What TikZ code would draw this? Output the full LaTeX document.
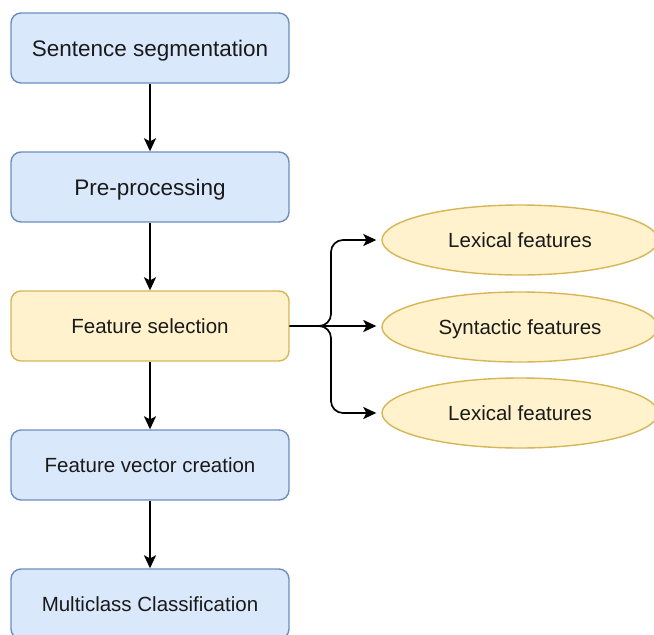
\documentclass[tikz,border=0pt]{standalone}
\usepackage{fontspec}
\setmainfont{Liberation Sans}
\usetikzlibrary{shapes.geometric,arrows.meta,calc}

\definecolor{blueFill}{HTML}{DAE8FC}
\definecolor{blueLine}{HTML}{6C8EBF}
\definecolor{yellowFill}{HTML}{FFF2CC}
\definecolor{yellowLine}{HTML}{D6B656}
\definecolor{ink}{HTML}{1A1A1A}

\tikzset{
  stage/.style={draw=blueLine, fill=blueFill, line width=1.4pt, rounded corners=10pt,
    minimum width=278pt, minimum height=70pt, inner sep=0pt, text=ink},
  hilite/.style={stage, draw=yellowLine, fill=yellowFill},
  feat/.style={ellipse, draw=yellowLine, fill=yellowFill, line width=1.4pt,
    minimum width=276pt, minimum height=70pt, inner sep=0pt, text=ink},
  % fixed text box so labels with and without descenders sit alike
  big/.style={font=\fontsize{22.5}{26}\selectfont, text height=17.5pt, text depth=1pt},
  small/.style={font=\fontsize{20.5}{24}\selectfont, text height=16pt, text depth=1pt},
  flow/.style={draw=black, line width=1.7pt, -{Stealth[length=13pt, width=12pt, inset=3pt]}},
}

\begin{document}
\begin{tikzpicture}[x=1pt, y=-1pt]
  \useasboundingbox (0,0) rectangle (654,635);
  \clip (0,0) rectangle (654,635);
  \fill[white] (0,0) rectangle (654,635);

  % main pipeline
  \node[stage, big]  (seg)  at (150,48)  {Sentence segmentation};
  \node[stage, big]  (pre)  at (150,187) {Pre-processing};
  \node[hilite, small] (sel) at (150,326) {Feature selection};
  \node[stage, small] (vec) at (150,465) {Feature vector creation};
  \node[stage, small] (cls) at (150,604) {Multiclass Classification};

  % feature groups
  \node[feat, small] (lex1) at (520,240) {Lexical features};
  \node[feat, small] (syn)  at (520,327) {Syntactic features};
  \node[feat, small] (lex2) at (520,413) {Lexical features};

  % vertical flow
  \draw[flow] (seg) -- (pre);
  \draw[flow] (pre) -- (sel);
  \draw[flow] (sel) -- (vec);
  \draw[flow] (vec) -- (cls);

  % branching to the feature groups
  \coordinate (jx) at (331,0);
  \draw[flow, shorten >=5pt, rounded corners=12pt] (sel.east) -- (sel.east -| jx) -- (lex1.west -| jx) -- (lex1.west);
  \draw[flow, shorten >=5pt] (sel.east) -- (syn.west |- sel.east);
  \draw[flow, shorten >=5pt, rounded corners=12pt] (sel.east) -- (sel.east -| jx) -- (lex2.west -| jx) -- (lex2.west);
\end{tikzpicture}
\end{document}
